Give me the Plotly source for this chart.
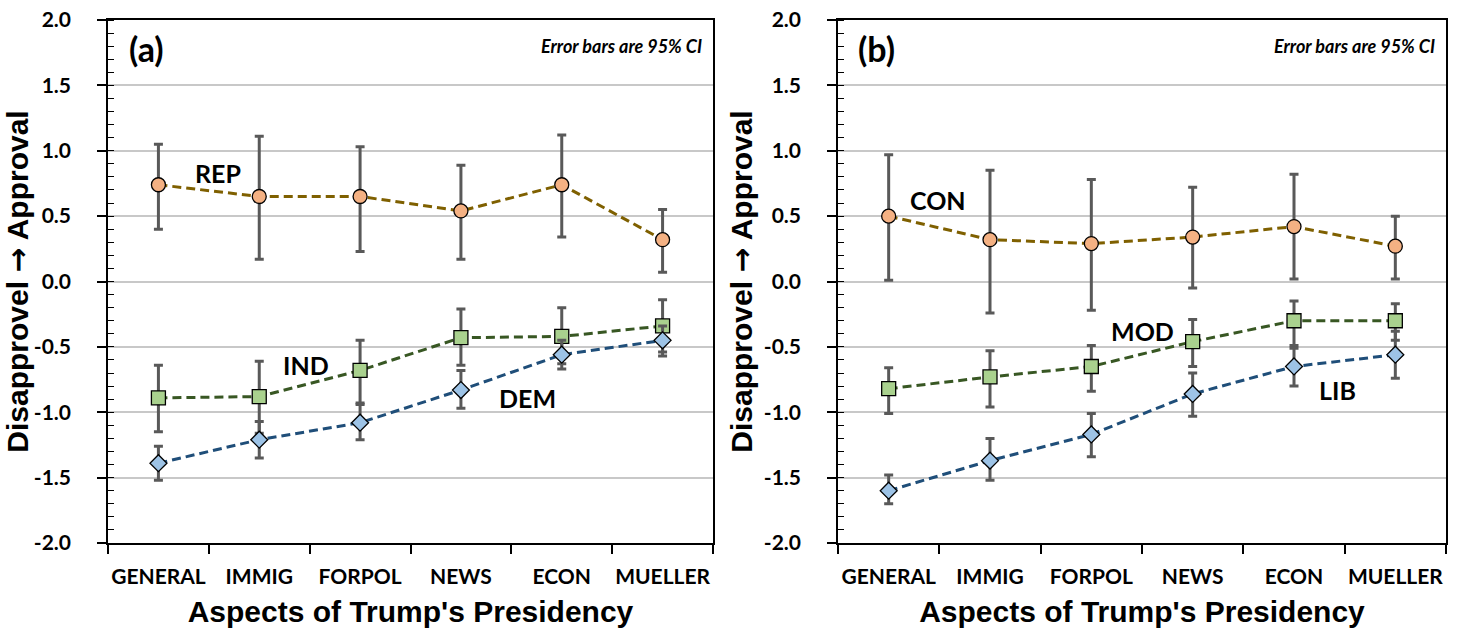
import plotly.graph_objects as go

categories = ["GENERAL", "IMMIG", "FORPOL", "NEWS", "ECON", "MUELLER"]

# Panel (a): party
rep = [0.74, 0.65, 0.65, 0.54, 0.74, 0.32]
rep_hi = [1.05, 1.11, 1.03, 0.89, 1.12, 0.55]
rep_lo = [0.40, 0.17, 0.23, 0.17, 0.34, 0.07]
ind = [-0.89, -0.88, -0.68, -0.43, -0.42, -0.34]
ind_hi = [-0.64, -0.61, -0.45, -0.21, -0.20, -0.14]
ind_lo = [-1.15, -1.16, -0.93, -0.64, -0.63, -0.54]
dem = [-1.39, -1.21, -1.08, -0.83, -0.56, -0.45]
dem_hi = [-1.26, -1.07, -0.94, -0.68, -0.45, -0.34]
dem_lo = [-1.52, -1.35, -1.21, -0.97, -0.67, -0.57]

# Panel (b): ideology
con = [0.50, 0.32, 0.29, 0.34, 0.42, 0.27]
con_hi = [0.97, 0.85, 0.78, 0.72, 0.82, 0.50]
con_lo = [0.01, -0.24, -0.22, -0.05, 0.02, 0.02]
mod = [-0.82, -0.73, -0.65, -0.46, -0.30, -0.30]
mod_hi = [-0.66, -0.53, -0.49, -0.29, -0.15, -0.17]
mod_lo = [-1.01, -0.96, -0.84, -0.65, -0.49, -0.45]
lib = [-1.60, -1.37, -1.17, -0.86, -0.65, -0.56]
lib_hi = [-1.48, -1.20, -1.01, -0.70, -0.51, -0.38]
lib_lo = [-1.70, -1.52, -1.34, -1.03, -0.80, -0.74]

y_ticks = [2.0, 1.5, 1.0, 0.5, 0.0, -0.5, -1.0, -1.5, -2.0]
y_ticktext = [f"{v:.1f}" for v in y_ticks]

ERR_COLOR = "#595959"
LABEL_FONT = "Lato"
TITLE_FONT = "Liberation Sans, Arial, sans-serif"

styles = {
    "circle": dict(line="#7F6000", fill="#F4B183", size=14),
    "square": dict(line="#385723", fill="#A9D18E", size=14),
    "diamond": dict(line="#1F4E79", fill="#9DC3E6", size=13),
}

fig = go.Figure()


def add_series(vals, hi, lo, symbol, xa, ya):
    st = styles[symbol]
    fig.add_trace(go.Scatter(
        x=categories, y=vals, mode="lines+markers",
        xaxis=xa, yaxis=ya, showlegend=False, cliponaxis=False,
        line=dict(color=st["line"], width=3, dash="9px,5px"),
        marker=dict(symbol=symbol, size=st["size"], color=st["fill"],
                    line=dict(color="black", width=1.3)),
        error_y=dict(type="data", symmetric=False,
                     array=[h - v for h, v in zip(hi, vals)],
                     arrayminus=[v - l for v, l in zip(vals, lo)],
                     color=ERR_COLOR, thickness=3, width=4.5),
    ))


add_series(rep, rep_hi, rep_lo, "circle", "x", "y")
add_series(ind, ind_hi, ind_lo, "square", "x", "y")
add_series(dem, dem_hi, dem_lo, "diamond", "x", "y")
add_series(con, con_hi, con_lo, "circle", "x2", "y2")
add_series(mod, mod_hi, mod_lo, "square", "x2", "y2")
add_series(lib, lib_hi, lib_lo, "diamond", "x2", "y2")

W, H = 1463, 634
ML, MR, MT, MB = 108, W - 1446, 20, H - 543
PW = W - ML - MR
xdom_a = [0, (713 - 108) / PW]
xdom_b = [(838 - 108) / PW, 1]

xaxis_common = dict(
    type="category", categoryorder="array", categoryarray=categories,
    range=[-0.5, 5.5], showline=True, linecolor="black", linewidth=1.5,
    mirror=True, ticks="outside", ticklen=9, tickwidth=1.5, tickcolor="black",
    tickson="boundaries", showgrid=False, zeroline=False, automargin=False,
    tickangle=0,
    tickfont=dict(family=LABEL_FONT, size=21, color="black", weight="bold"),
    ticklabelstandoff=14,
    title=dict(text="Aspects of Trump's Presidency", standoff=14,
               font=dict(family=TITLE_FONT, size=30, color="black", weight="bold")),
)
yaxis_common = dict(
    range=[-2.0, 2.0], tickmode="array", tickvals=y_ticks, ticktext=y_ticktext,
    showline=True, linecolor="black", linewidth=1.5, mirror=True,
    ticks="outside", ticklen=9, tickwidth=1.5, tickcolor="black",
    minor=dict(ticks="inside", ticklen=6, tickwidth=1.2, tickcolor="black",
               dtick=0.1, tick0=0, showgrid=False),
    showgrid=True, gridcolor="#C8C8C8", gridwidth=1.5, zeroline=False,
    automargin=False,
    tickfont=dict(family=LABEL_FONT, size=21, color="black", weight="bold"),
    ticklabelstandoff=22,
    title=dict(text="Disapprovel <span style='font-family:DejaVu Sans'>\u2192</span> Approval",
               standoff=2,
               font=dict(family=TITLE_FONT, size=30, color="black", weight="bold")),
)

fig.update_layout(
    width=W, height=H, template="none",
    paper_bgcolor="white", plot_bgcolor="white",
    margin=dict(l=ML, r=MR, t=MT, b=MB, autoexpand=False),
    xaxis=dict(domain=xdom_a, anchor="y", **xaxis_common),
    yaxis=dict(domain=[0, 1], anchor="x", **yaxis_common),
    xaxis2=dict(domain=xdom_b, anchor="y2", **xaxis_common),
    yaxis2=dict(domain=[0, 1], anchor="x2", **yaxis_common),
)

lab_font = dict(family=LABEL_FONT, size=25, color="black", weight="bold")
group_labels = [
    ("REP", 0.59, 0.83, "x", "y"),
    ("IND", 1.46, -0.635, "x", "y"),
    ("DEM", 3.66, -0.89, "x", "y"),
    ("CON", 0.49, 0.62, "x2", "y2"),
    ("MOD", 2.50, -0.38, "x2", "y2"),
    ("LIB", 4.43, -0.83, "x2", "y2"),
]
for txt, xv, yv, xr, yr in group_labels:
    fig.add_annotation(text=txt, x=xv, y=yv, xref=xr, yref=yr,
                       showarrow=False, font=lab_font)

for txt, xr, yr in [("(a)", "x domain", "y domain"), ("(b)", "x2 domain", "y2 domain")]:
    fig.add_annotation(text=txt, x=0.064, y=0.946, xref=xr, yref=yr,
                       xanchor="center", yanchor="middle", showarrow=False,
                       font=dict(family=LABEL_FONT, size=34, color="black", weight="bold"))
    fig.add_annotation(text="<i>Error bars are 95% CI</i>", x=0.985, y=0.95,
                       xref=xr, yref=yr, xanchor="right", yanchor="middle",
                       showarrow=False,
                       font=dict(family=LABEL_FONT, size=18, color="black", weight="bold"))

fig.write_html(
    "out.html",
    config={"displayModeBar": False},
    post_script="document.body.style.margin='0';",
)
